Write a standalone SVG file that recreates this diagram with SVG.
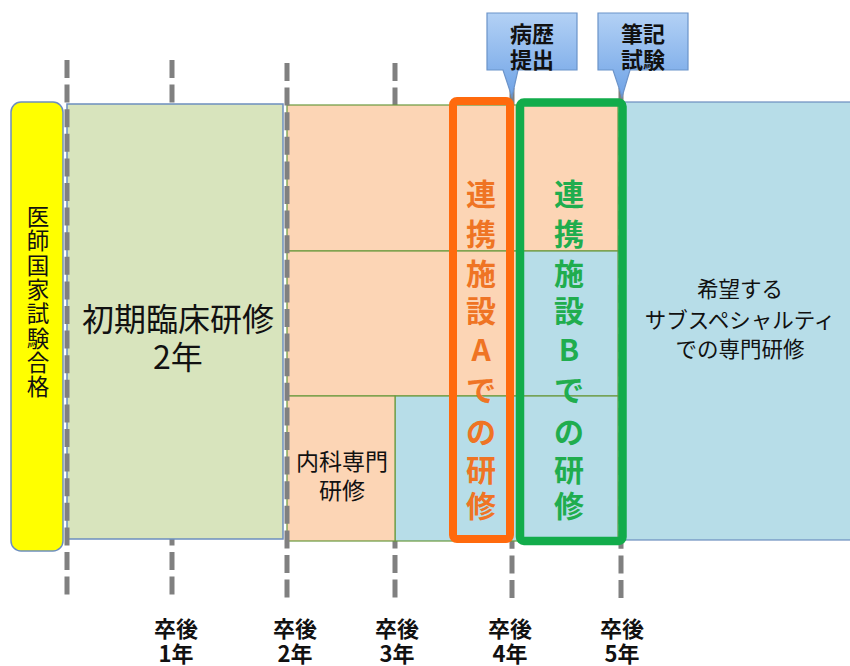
<svg xmlns="http://www.w3.org/2000/svg" width="850" height="666" viewBox="0 0 850 666">
<style>
.dash{stroke:#808080;stroke-width:5;stroke-dasharray:18 6.6;fill:none}
.peach{fill:#fcd5b5;stroke:#6a9a3e;stroke-width:1.2}
.blue{fill:#b7dde8;stroke:#6a9a3e;stroke-width:1.2}
.jp{font-family:"Noto Sans CJK JP","Noto Sans",sans-serif;text-anchor:middle;dominant-baseline:central;fill:#111}
.b{font-weight:bold}
.ot{fill:#ef7424;font-weight:bold;font-size:30px}
.gt{fill:#20ad4e;font-weight:bold;font-size:30px}
.call{fill:url(#cg);stroke:#6b93c9;stroke-width:1.2}
</style>
<defs>
<linearGradient id="cg" x1="0" y1="0" x2="0" y2="1">
<stop offset="0" stop-color="#b3d1f5"/>
<stop offset="1" stop-color="#6fa3e6"/>
</linearGradient>
</defs>
<rect width="850" height="666" fill="#fff"/>
<g id="timeline-back">
<line class="dash" x1="172" y1="60" x2="172" y2="596"/>
<line class="dash" x1="395" y1="63" x2="395" y2="598"/>
<line class="dash" x1="512" y1="88" x2="512" y2="598"/>
<line class="dash" x1="621" y1="88" x2="621" y2="598"/>
</g>
<g id="sub-specialty">
<rect x="621" y="102" width="235" height="438" fill="#b7dde8" stroke="#6c8ebf" stroke-width="1.2"/>
<text class="jp" font-size="21.5"><tspan x="740" y="287">希望する</tspan><tspan x="740" y="318">サブスペシャルティ</tspan><tspan x="740" y="347">での専門研修</tspan></text>
</g>
<g id="cells">
<rect class="peach" x="287" y="105" width="331" height="146"/>
<rect class="peach" x="287" y="251" width="231" height="145"/>
<rect class="blue" x="518" y="251" width="100" height="145"/>
<rect class="blue" x="395" y="396" width="223" height="145"/>
</g>
<g id="internal-medicine">
<rect class="peach" x="287" y="396" width="108" height="145"/>
<text class="jp" font-size="23"><tspan x="342" y="460">内科専門</tspan><tspan x="342" y="489">研修</tspan></text>
</g>
<g id="initial-training">
<rect x="67" y="104" width="216" height="435" fill="#d8e4bd" stroke="#6c8ebf" stroke-width="1.5"/>
<text class="jp" font-size="32"><tspan x="178" y="317">初期臨床研修</tspan><tspan x="178" y="355">2年</tspan></text>
</g>
<g id="exam-pass">
<rect x="11" y="102" width="52" height="449" rx="10" fill="#ffff00" stroke="#6c8ebf" stroke-width="1.5"/>
<text class="jp" font-size="22.5">
<tspan x="38" y="215">医</tspan><tspan x="38" y="239">師</tspan><tspan x="38" y="264">国</tspan><tspan x="38" y="288">家</tspan><tspan x="38" y="312">試</tspan><tspan x="38" y="337">験</tspan><tspan x="38" y="361">合</tspan><tspan x="38" y="385">格</tspan>
</text>
</g>
<g id="timeline-front">
<line class="dash" x1="67" y1="60" x2="67" y2="596"/>
<line class="dash" x1="287" y1="63" x2="287" y2="598"/>
</g>
<g id="facility-a">
<rect x="453" y="101" width="57" height="438" rx="4" fill="none" stroke="#ff6a0d" stroke-width="8"/>
<text class="jp ot">
<tspan x="481" y="192">連</tspan><tspan x="481" y="232">携</tspan><tspan x="481" y="272">施</tspan><tspan x="481" y="309">設</tspan><tspan x="481" y="348">A</tspan><tspan x="481" y="388">で</tspan><tspan x="481" y="430">の</tspan><tspan x="481" y="468">研</tspan><tspan x="481" y="504">修</tspan>
</text>
</g>
<g id="facility-b">
<rect x="520" y="102.5" width="102.5" height="438.5" rx="4" fill="none" stroke="#12ac4b" stroke-width="8.5"/>
<text class="jp gt">
<tspan x="569" y="192">連</tspan><tspan x="569" y="232">携</tspan><tspan x="569" y="272">施</tspan><tspan x="569" y="309">設</tspan><tspan x="569" y="348">B</tspan><tspan x="569" y="388">で</tspan><tspan x="569" y="430">の</tspan><tspan x="569" y="468">研</tspan><tspan x="569" y="504">修</tspan>
</text>
</g>
<g id="callout-history">
<path class="call" d="M487,13 H577 V70 H518 L512,97 L503,70 H487 Z"/>
<text class="jp b" font-size="22"><tspan x="532" y="32">病歴</tspan><tspan x="532" y="58">提出</tspan></text>
</g>
<g id="callout-exam">
<path class="call" d="M598,13 H688 V70 H630 L622,97 L613,70 H598 Z"/>
<text class="jp b" font-size="22"><tspan x="643" y="32">筆記</tspan><tspan x="643" y="58">試験</tspan></text>
</g>
<g id="year-labels">
<text class="jp b" font-size="22"><tspan x="176" y="627">卒後</tspan><tspan x="176" y="652">1年</tspan></text>
<text class="jp b" font-size="22"><tspan x="295" y="627">卒後</tspan><tspan x="295" y="652">2年</tspan></text>
<text class="jp b" font-size="22"><tspan x="397" y="627">卒後</tspan><tspan x="397" y="652">3年</tspan></text>
<text class="jp b" font-size="22"><tspan x="510" y="627">卒後</tspan><tspan x="510" y="652">4年</tspan></text>
<text class="jp b" font-size="22"><tspan x="622" y="627">卒後</tspan><tspan x="622" y="652">5年</tspan></text>
</g>
</svg>
